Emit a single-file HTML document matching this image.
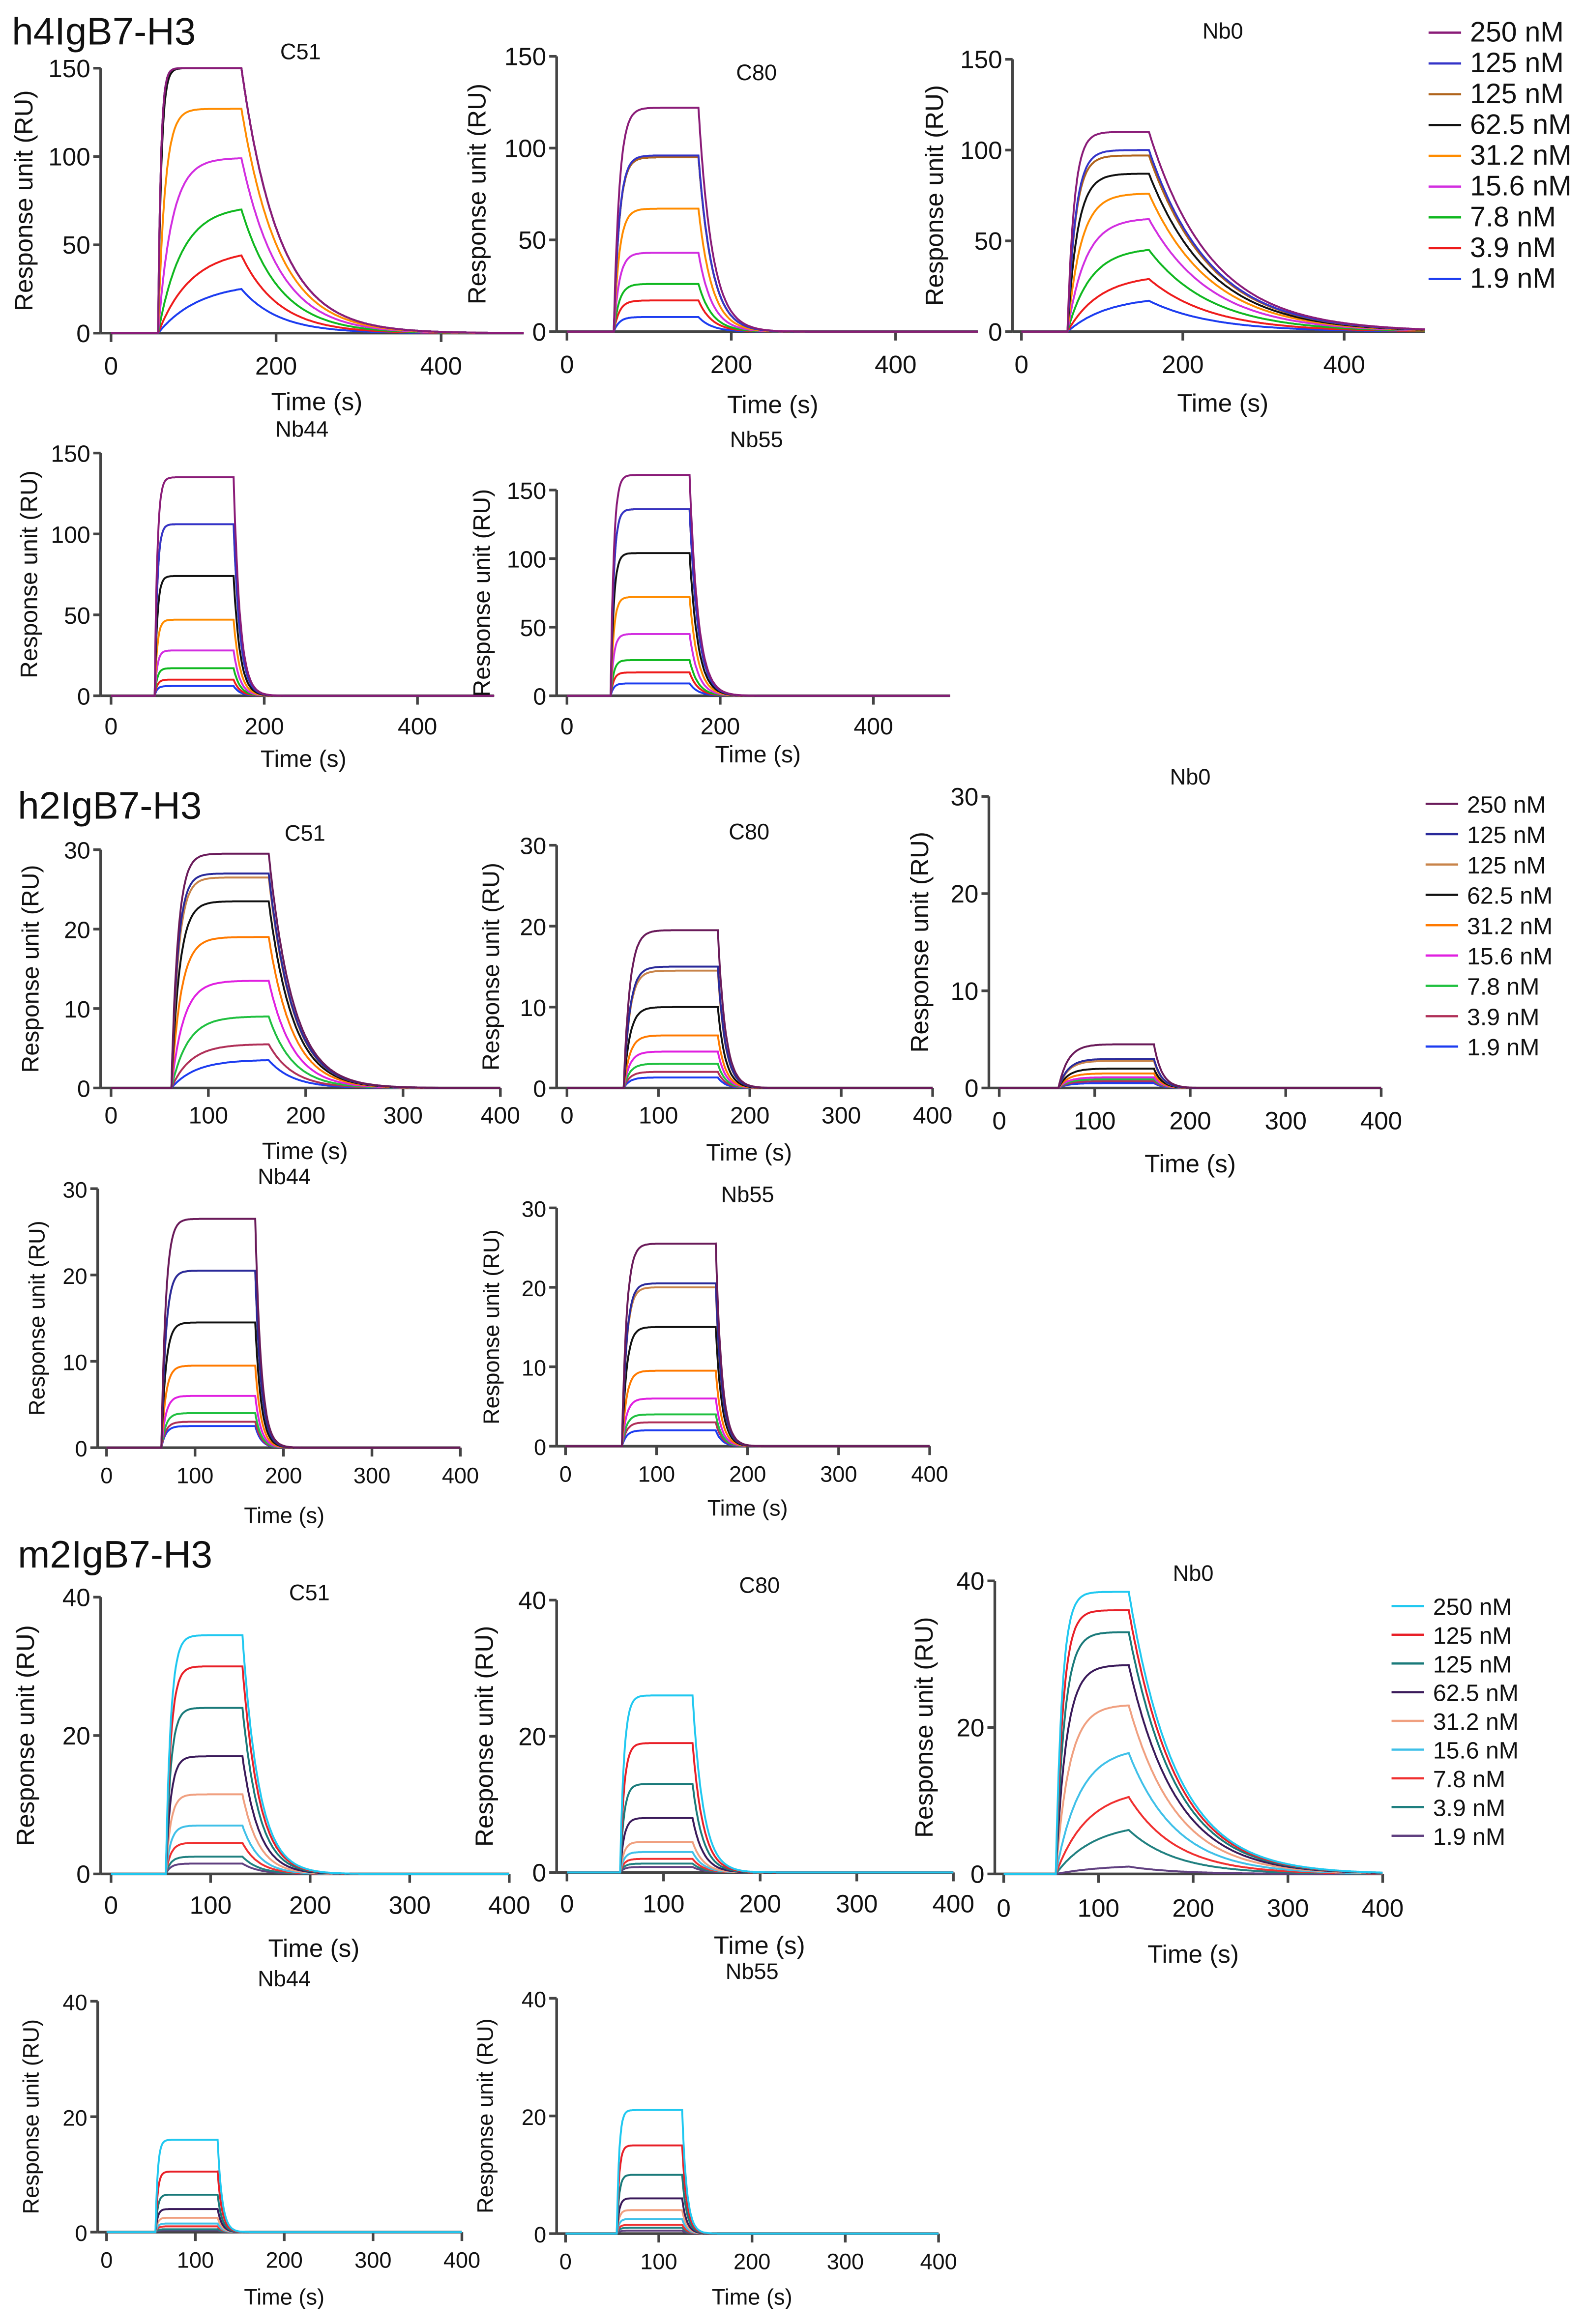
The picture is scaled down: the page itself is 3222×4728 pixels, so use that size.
<!DOCTYPE html>
<html><head><meta charset="utf-8">
<style>
html,body{margin:0;padding:0;background:#fff;}
svg{display:block;}
text{font-family:"Liberation Sans",Arial,sans-serif;fill:#111;}
</style></head>
<body>
<svg id="chart" xmlns="http://www.w3.org/2000/svg" width="3222" height="4728" viewBox="0 0 1070 1570">
<rect width="1070" height="1570" fill="#fff"/>
<text x="8" y="30" font-size="26">h4IgB7-H3</text>
<text x="12" y="553" font-size="26">h2IgB7-H3</text>
<text x="12" y="1059" font-size="26">m2IgB7-H3</text>
</svg>
<script>
// concentration labels
const concLabels = ["250 nM","125 nM","125 nM","62.5 nM","31.2 nM","15.6 nM","7.8 nM","3.9 nM","1.9 nM"];
// series colors per section
const colorsH4 = ["#8a1c78","#3434c8","#b0641c","#111111","#ff8c00","#d22ee0","#10b820","#ee1c1c","#1c3cf0"];
const colorsH2 = ["#6a1b5a","#2a2a9a","#c8844a","#111111","#ff7a00","#e020e0","#20c040","#b03058","#1c3cf0"];
const colorsM2 = ["#20c8f0","#e82028","#1a7a7a","#3a1a5a","#f0a080","#40c0e8","#f03030","#208080","#604080"];
// plateau (end-of-association) response values (RU) per panel
const h4_C51 = [150,150,150,150,127,99,70,44,25];
const h4_C80 = [122,96,95,95,67,43,26,17,8];
const h4_Nb0 = [110,100,97,87,76,62,45,29,17];
const h4_Nb44 = [135,106,106,74,47,28,17,10,6];
const h4_Nb55 = [161,136,136,104,72,45,26,17,9];
const h2_C51 = [29.5,27,26.5,23.5,19,13.5,9,5.5,3.5];
const h2_C80 = [19.5,15,14.5,10,6.5,4.5,3,2,1.3];
const h2_Nb0 = [4.5,3,2.8,2,1.5,1.1,0.9,0.7,0.5];
const h2_Nb44 = [26.5,20.5,20.5,14.5,9.5,6,4,3,2.5];
const h2_Nb55 = [25.5,20.5,20,15,9.5,6,4,3,2];
const m2_C51 = [34.5,30,24,17,11.5,7,4.5,2.5,1.5];
const m2_C80 = [26,19,13,8,4.5,3,2,1.3,0.8];
const m2_Nb0 = [38.5,36,33,28.5,23,16.5,10.5,6,1];
const m2_Nb44 = [16,10.5,6.5,4,2.5,1.5,1,0.5,0.3];
const m2_Nb55 = [21,15,10,6,4,2.5,1.5,1,0.5];
// kinetics: [assocStart s, assocEnd s, ka (1/s), kd (1/s)]
const h4_C51_kin=[57,158,0.03,0.022], h4_C80_kin=[57,160,0.15,0.06], h4_Nb0_kin=[57,158,0.04,0.013];
const h4_Nb44_kin=[57,160,0.3,0.12], h4_Nb55_kin=[57,160,0.25,0.09];
const h2_C51_kin=[62,162,0.08,0.04], h2_C80_kin=[62,165,0.15,0.12], h2_Nb0_kin=[62,162,0.1,0.12];
const h2_Nb44_kin=[62,168,0.2,0.15], h2_Nb55_kin=[62,165,0.2,0.15];
const m2_C51_kin=[55,132,0.2,0.06], m2_C80_kin=[55,130,0.25,0.09], m2_Nb0_kin=[55,132,0.12,0.02];
const m2_Nb44_kin=[55,125,0.4,0.2], m2_Nb55_kin=[55,125,0.4,0.2];
// per-curve observed association rates (1/s) where concentration dependence is visible
const h4_C51_ka = [0.3,0.3,0.3,0.25,0.12,0.06,0.035,0.025,0.02];
const h4_Nb0_ka = [0.12,0.1,0.1,0.08,0.06,0.045,0.035,0.025,0.02];
const h2_C51_ka = [0.15,0.15,0.14,0.12,0.1,0.08,0.06,0.05,0.04];
const m2_Nb0_ka = [0.15,0.13,0.11,0.09,0.07,0.04,0.03,0.025,0.02];
// axis ticks
const xTicks500=[0,200,400], xTicks400=[0,100,200,300,400];
const yTicks150=[0,50,100,150], yTicks30=[0,10,20,30], yTicks40=[0,20,40], yTicks40b=[0,20,40];

const NS="http://www.w3.org/2000/svg";
const svg=document.getElementById('chart');
function mk(tag,attrs,parent){const e=document.createElementNS(NS,tag);for(const k in attrs)e.setAttribute(k,attrs[k]);(parent||svg).appendChild(e);return e;}

function panel(p){
  const g=mk('g',{});
  
  
  const xs=t=>p.x0+t*p.xs, ys=v=>p.y0-v*(p.y0-p.yTop)/p.yMax;
  const fs=p.fs||16;
  const ax=mk('line',{x1:p.ax,y1:ys(p.yMax),x2:p.ax,y2:p.y0,stroke:'#444','stroke-width':1.8},g);
  
  
  const xa=mk('line',{x1:p.ax,y1:p.y0,x2:xs(p.xEnd),y2:p.y0,stroke:'#444','stroke-width':1.8},g);
  
  
  p.yt.forEach(v=>{
    mk('line',{x1:p.ax-5,y1:ys(v),x2:p.ax,y2:ys(v),stroke:'#444','stroke-width':1.8},g);
    const t=mk('text',{x:p.ax-7,y:ys(v)+6,'font-size':fs,'text-anchor':'end'},g);t.textContent=v;
    
    
  });
  p.xt.forEach(v=>{
    mk('line',{x1:xs(v),y1:p.y0,x2:xs(v),y2:p.y0+6,stroke:'#444','stroke-width':1.8},g);
    const t=mk('text',{x:xs(v),y:p.y0+p.xlo,'font-size':fs,'text-anchor':'middle'},g);t.textContent=v;
    
    
  });
  const tt=mk('text',{x:p.tx,y:p.ty,'font-size':15,'text-anchor':'middle'},g);tt.textContent=p.title;
  
  
  const xl=mk('text',{x:p.xlx,y:p.xly,'font-size':fs,'text-anchor':'middle'},g);xl.textContent='Time (s)';
  
  
  const cy=(p.y0+ys(p.yMax))/2;
  const yl=mk('text',{x:p.ylx,y:cy,'font-size':fs,'text-anchor':'middle',transform:`rotate(-90 ${p.ylx} ${cy})`},g);yl.textContent='Response unit (RU)';
  
  
  const [t0,t1,kaBase,kd]=p.kin;
  for(let i=p.vals.length-1;i>=0;i--){
    const R=p.vals[i];
    const ka=p.kaList?p.kaList[i]:kaBase;
    const norm=1-Math.exp(-ka*(t1-t0));
    let d='';
    for(let t=0;t<=p.xEnd;t+=1){
      let v;
      if(t<t0)v=0;
      else if(t<=t1)v=R*(1-Math.exp(-ka*(t-t0)))/norm;
      else v=R*Math.exp(-kd*(t-t1));
      d+=(t?'L':'M')+xs(t).toFixed(1)+','+ys(v).toFixed(1);
    }
    const c=mk('path',{d:d,fill:'none',stroke:p.colors[i],'stroke-width':1.3},g);
    
    
  }
}
function legend(x,y0,dy,colors,fs,id){
  const g=mk('g',{});
  
  
  concLabels.forEach((l,i)=>{
    const y=y0+i*dy;
    mk('line',{x1:x,y1:y,x2:x+22,y2:y,stroke:colors[i],'stroke-width':1.5},g);
    const t=mk('text',{x:x+28,y:y+6,'font-size':fs},g);t.textContent=l;
    
    
  });
}
// Section 1
panel({id:'h4-c51',title:'C51',vals:h4_C51,kin:h4_C51_kin,kaList:h4_C51_ka,colors:colorsH4,ax:68,x0:75,xs:0.5575,xEnd:500,y0:225,yTop:46,yMax:150,yt:yTicks150,xt:xTicks500,xlo:28,tx:203,ty:40,xlx:214,xly:277,ylx:22,fs:17});
panel({id:'h4-c80',title:'C80',vals:h4_C80,kin:h4_C80_kin,colors:colorsH4,ax:376,x0:383,xs:0.555,xEnd:500,y0:224,yTop:38,yMax:150,yt:yTicks150,xt:xTicks500,xlo:28,tx:511,ty:54,xlx:522,xly:279,ylx:328,fs:17});
panel({id:'h4-nb0',title:'Nb0',vals:h4_Nb0,kin:h4_Nb0_kin,kaList:h4_Nb0_ka,colors:colorsH4,ax:684,x0:690,xs:0.5450,xEnd:500,y0:224,yTop:40,yMax:150,yt:yTicks150,xt:xTicks500,xlo:28,tx:826,ty:26,xlx:826,xly:278,ylx:637,fs:17});
legend(965,22,20.8,colorsH4,19,'h4');
panel({id:'h4-nb44',title:'Nb44',vals:h4_Nb44,kin:h4_Nb44_kin,colors:colorsH4,ax:68,x0:75,xs:0.5175,xEnd:500,y0:470,yTop:306,yMax:150,yt:yTicks150,xt:xTicks500,xlo:26,tx:204,ty:295,xlx:205,xly:518,ylx:25,fs:16});
panel({id:'h4-nb55',title:'Nb55',vals:h4_Nb55,kin:h4_Nb55_kin,colors:colorsH4,ax:376,x0:383,xs:0.5175,xEnd:500,y0:470,yTop:331,yMax:150,yt:yTicks150,xt:xTicks500,xlo:26,tx:511,ty:302,xlx:512,xly:515,ylx:331,fs:16});
// Section 2
panel({id:'h2-c51',title:'C51',vals:h2_C51,kin:h2_C51_kin,kaList:h2_C51_ka,colors:colorsH2,ax:68,x0:75,xs:0.6575,xEnd:400,y0:735,yTop:574,yMax:30,yt:yTicks30,xt:xTicks400,xlo:24,tx:206,ty:568,xlx:206,xly:783,ylx:26,fs:16});
panel({id:'h2-c80',title:'C80',vals:h2_C80,kin:h2_C80_kin,colors:colorsH2,ax:376,x0:383,xs:0.6175,xEnd:400,y0:735,yTop:571,yMax:30,yt:yTicks30,xt:xTicks400,xlo:24,tx:506,ty:567,xlx:506,xly:784,ylx:337,fs:16});
panel({id:'h2-nb0',title:'Nb0',vals:h2_Nb0,kin:h2_Nb0_kin,colors:colorsH2,ax:668,x0:675,xs:0.645,xEnd:400,y0:735,yTop:538,yMax:30,yt:yTicks30,xt:xTicks400,xlo:28,tx:804,ty:530,xlx:804,xly:792,ylx:627,fs:17});
legend(963,543,20.5,colorsH2,16,'h2');
panel({id:'h2-nb44',title:'Nb44',vals:h2_Nb44,kin:h2_Nb44_kin,colors:colorsH2,ax:66,x0:72,xs:0.5975,xEnd:400,y0:978,yTop:803,yMax:30,yt:yTicks30,xt:xTicks400,xlo:24,tx:192,ty:800,xlx:192,xly:1029,ylx:30,fs:15});
panel({id:'h2-nb55',title:'Nb55',vals:h2_Nb55,kin:h2_Nb55_kin,colors:colorsH2,ax:376,x0:382,xs:0.615,xEnd:400,y0:977,yTop:816,yMax:30,yt:yTicks30,xt:xTicks400,xlo:24,tx:505,ty:812,xlx:505,xly:1024,ylx:337,fs:15});
// Section 3
panel({id:'m2-c51',title:'C51',vals:m2_C51,kin:m2_C51_kin,colors:colorsM2,ax:68,x0:75,xs:0.6725,xEnd:400,y0:1266,yTop:1079,yMax:40,yt:yTicks40,xt:xTicks400,xlo:27,tx:209,ty:1081,xlx:212,xly:1322,ylx:23,fs:17});
panel({id:'m2-c80',title:'C80',vals:m2_C80,kin:m2_C80_kin,colors:colorsM2,ax:376,x0:383,xs:0.6525,xEnd:400,y0:1265,yTop:1081,yMax:40,yt:yTicks40,xt:xTicks400,xlo:27,tx:513,ty:1076,xlx:513,xly:1320,ylx:333,fs:17});
panel({id:'m2-nb0',title:'Nb0',vals:m2_Nb0,kin:m2_Nb0_kin,kaList:m2_Nb0_ka,colors:colorsM2,ax:672,x0:678,xs:0.64,xEnd:400,y0:1266,yTop:1068,yMax:40,yt:yTicks40,xt:xTicks400,xlo:29,tx:806,ty:1068,xlx:806,xly:1326,ylx:630,fs:17});
legend(940,1085,19.4,colorsM2,16,'m2');
panel({id:'m2-nb44',title:'Nb44',vals:m2_Nb44,kin:m2_Nb44_kin,colors:colorsM2,ax:66,x0:72,xs:0.6,xEnd:400,y0:1508,yTop:1352,yMax:40,yt:yTicks40b,xt:xTicks400,xlo:24,tx:192,ty:1342,xlx:192,xly:1557,ylx:26,fs:15});
panel({id:'m2-nb55',title:'Nb55',vals:m2_Nb55,kin:m2_Nb55_kin,colors:colorsM2,ax:376,x0:382,xs:0.63,xEnd:400,y0:1509,yTop:1350,yMax:40,yt:yTicks40b,xt:xTicks400,xlo:24,tx:508,ty:1337,xlx:508,xly:1557,ylx:333,fs:15});
</script>
</body></html>
